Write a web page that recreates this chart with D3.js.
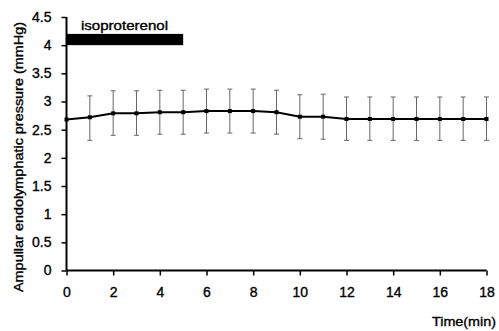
<!DOCTYPE html>
<html>
<head>
<meta charset="utf-8">
<script src="https://cdn.jsdelivr.net/npm/d3@7"></script>
<style>
  body { margin: 0; background: #fff; }
  svg text { font-family: Arial, "Liberation Sans", sans-serif; fill: #000; stroke: #000; stroke-width: 0.35px; }
  .tick-label { font-size: 14px; }
</style>
</head>
<body>
<div id="chart"></div>
<script>
// Data
var minutes = [0, 1, 2, 3, 4, 5, 6, 7, 8, 9, 10, 11, 12, 13, 14, 15, 16, 17, 18];
var pressure = [2.68, 2.72, 2.79, 2.79, 2.81, 2.81, 2.83, 2.83, 2.83, 2.81, 2.73, 2.73, 2.69, 2.69, 2.69, 2.69, 2.69, 2.69, 2.69];
var errUpper = [null, 3.10, 3.19, 3.19, 3.20, 3.20, 3.22, 3.22, 3.22, 3.20, 3.12, 3.13, 3.08, 3.08, 3.08, 3.08, 3.08, 3.08, 3.08];
var errLower = [null, 2.31, 2.40, 2.40, 2.42, 2.42, 2.44, 2.44, 2.44, 2.42, 2.34, 2.33, 2.31, 2.31, 2.31, 2.31, 2.31, 2.31, 2.31];
var drugWindow = [0, 5];      // minutes isoproterenol was applied
var drugBand = [4.0, 4.2];    // drawn as a black bar in data units
var xTicks = [0, 2, 4, 6, 8, 10, 12, 14, 16, 18];
var yTicks = [0, 0.5, 1, 1.5, 2, 2.5, 3, 3.5, 4, 4.5];

var width = 499, height = 331;
var margin = {top: 17, right: 12.5, bottom: 60.5, left: 66.5};

var svg = d3.select("#chart").append("svg")
  .attr("width", width)
  .attr("height", height);

var x = d3.scaleLinear().domain([0, 18]).range([margin.left, width - margin.right]);
var y = d3.scaleLinear().domain([0, 4.5]).range([height - margin.bottom, margin.top]);

//Axes
var xAxis = svg.append("g")
  .attr("transform", "translate(0," + y(0) + ")")
  .call(d3.axisBottom(x).tickValues(xTicks).tickSize(5).tickPadding(12).tickFormat(d3.format("d")));

var yAxis = svg.append("g")
  .attr("transform", "translate(" + x(0) + ",0)")
  .call(d3.axisLeft(y).tickValues(yTicks).tickSize(5).tickPadding(10).tickFormat(function(d) { return d; }));

[xAxis, yAxis].forEach(function(ax) {
  ax.select(".domain").attr("stroke", "#000").attr("stroke-width", 2);
  ax.selectAll(".tick line").attr("stroke", "#000").attr("stroke-width", 1.5);
  ax.selectAll(".tick text").attr("class", "tick-label").attr("font-size", null).attr("font-family", null);
});
xAxis.select(".domain").attr("d", "M" + x(0) + ",0H" + x(18));
yAxis.select(".domain").attr("d", "M0," + y(4.5) + "V" + y(0));

//Error bars
var points = minutes.map(function(m, i) {
  return {t: m, v: pressure[i], hi: errUpper[i], lo: errLower[i]};
});
var bars = points.filter(function(d) { return d.hi !== null; });

svg.selectAll(".err")
  .data(bars)
  .enter().append("path")
  .attr("class", "err")
  .attr("d", function(d) {
    var cx = x(d.t);
    return "M" + cx + "," + y(d.hi) + "V" + y(d.lo) +
      "M" + (cx - 2.5) + "," + y(d.hi) + "H" + (cx + 2.5) +
      "M" + (cx - 2.5) + "," + y(d.lo) + "H" + (cx + 2.5);
  })
  .attr("fill", "none")
  .attr("stroke", "#666")
  .attr("stroke-width", 1);

//Mean line
svg.append("path")
  .datum(points)
  .attr("fill", "none")
  .attr("stroke", "#000")
  .attr("stroke-width", 2)
  .attr("d", d3.line().x(function(d) { return x(d.t); }).y(function(d) { return y(d.v); }));

svg.selectAll(".marker")
  .data(points)
  .enter().append("rect")
  .attr("class", "marker")
  .attr("x", function(d) { return x(d.t) - 2; })
  .attr("y", function(d) { return y(d.v) - 2; })
  .attr("width", 4)
  .attr("height", 4)
  .attr("fill", "#000");

//Isoproterenol bar
svg.append("rect")
  .attr("x", x(drugWindow[0]))
  .attr("y", y(drugBand[1]))
  .attr("width", x(drugWindow[1]) - x(drugWindow[0]))
  .attr("height", y(drugBand[0]) - y(drugBand[1]))
  .attr("fill", "#000");

svg.append("text")
  .attr("x", 81)
  .attr("y", 30)
  .attr("textLength", 87)
  .attr("lengthAdjust", "spacingAndGlyphs")
  .style("font-size", "12.5px")
  .text("isoproterenol");

//Axis titles
svg.append("text")
  .attr("transform", "translate(23,157) rotate(-90)")
  .attr("text-anchor", "middle")
  .attr("textLength", 270)
  .attr("lengthAdjust", "spacingAndGlyphs")
  .style("font-size", "13px")
  .text("Ampullar endolymphatic pressure (mmHg)");

svg.append("text")
  .attr("x", 432)
  .attr("y", 326)
  .attr("textLength", 64)
  .attr("lengthAdjust", "spacingAndGlyphs")
  .style("font-size", "13px")
  .text("Time(min)");
</script>
</body>
</html>
